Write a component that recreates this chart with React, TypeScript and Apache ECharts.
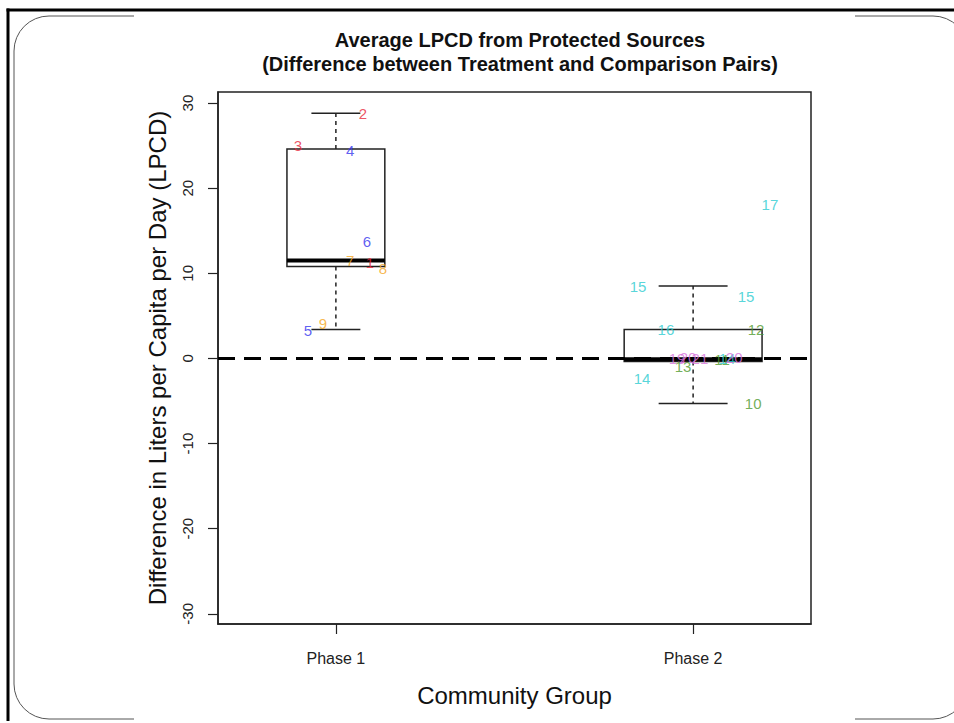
import React, { useEffect, useRef } from "react";
import * as echarts from "echarts";

const categories = ["Phase 1", "Phase 2"];
const categoryPositions = [1, 2];
// [x, lowerWhisker, q1, median, q3, upperWhisker]
const boxStats = [
  [1, 3.4, 10.8, 11.5, 24.6, 28.8],
  [2, -5.3, -0.35, -0.1, 3.4, 8.5],
];
const boxWidths = [0.274, 0.386];
const yTicks = [-30, -20, -10, 0, 10, 20, 30];
const zeroLine = [
  [0.67, 0],
  [2.33, 0],
];

const RED = "#e8283a";
const BLUE = "#3535ee";
const ORANGE = "#f5a623";
const CYAN = "#2ccbd0";
const GREEN = "#4f9a2e";
const VIOLET = "#d873dc";

// [label, x, y, color]
const pointLabels: [string, number, number, string][] = [
  ["2", 1.076, 28.8, RED],
  ["3", 0.894, 25.0, RED],
  ["4", 1.04, 24.4, BLUE],
  ["6", 1.087, 13.7, BLUE],
  ["7", 1.04, 11.5, ORANGE],
  ["1", 1.095, 11.3, RED],
  ["8", 1.132, 10.6, ORANGE],
  ["9", 0.964, 4.1, ORANGE],
  ["5", 0.922, 3.3, BLUE],
  ["15", 1.846, 8.5, CYAN],
  ["15", 2.148, 7.3, CYAN],
  ["17", 2.215, 18.1, CYAN],
  ["16", 1.924, 3.4, CYAN],
  ["12", 2.176, 3.4, GREEN],
  ["14", 1.857, -2.4, CYAN],
  ["10", 2.168, -5.3, GREEN],
  ["19", 1.955, 0.0, VIOLET],
  ["20", 1.986, 0.1, VIOLET],
  ["21", 2.019, 0.0, VIOLET],
  ["13", 1.972, -0.9, GREEN],
  ["11", 2.081, -0.1, GREEN],
  ["14", 2.095, 0.0, CYAN],
  ["20", 2.115, 0.15, VIOLET],
];

const FONT = "'Liberation Sans', Arial, Helvetica, sans-serif";

export default function App() {
  const ref = useRef<HTMLDivElement>(null);
  useEffect(() => {
    if (!ref.current) return;
    const chart = echarts.init(ref.current, null, { renderer: "svg" });
    const option: any = {
      animation: false,
      backgroundColor: "#fff",
      textStyle: { fontFamily: FONT },
      title: {
        text: "Average LPCD from Protected Sources\n(Difference between Treatment and Comparison Pairs)",
        left: 515,
        top: 23,
        textAlign: "center",
        textStyle: {
          fontFamily: FONT,
          fontSize: 20,
          fontWeight: "bold",
          color: "#111",
          lineHeight: 24,
        },
      },
      graphic: [
        {
          type: "rect",
          z: -10,
          shape: { x: 14, y: 16, width: 954, height: 703, r: 35 },
          style: { fill: "none", stroke: "#555", lineWidth: 1 },
        },
        {
          type: "rect",
          z: -9,
          shape: { x: 134, y: 12, width: 721, height: 711 },
          style: { fill: "#fff" },
        },
        {
          type: "line",
          z: -8,
          shape: { x1: 6.5, y1: 10, x2: 954, y2: 10 },
          style: { stroke: "#000", lineWidth: 3 },
        },
        {
          type: "line",
          z: -8,
          shape: { x1: 8, y1: 8.5, x2: 8, y2: 721 },
          style: { stroke: "#000", lineWidth: 3 },
        },
      ],
      grid: {
        left: 218,
        top: 92,
        width: 593,
        height: 532,
        show: true,
        borderColor: "#222",
        borderWidth: 1.5,
        backgroundColor: "transparent",
      },
      xAxis: {
        type: "value",
        min: 0.67,
        max: 2.33,
        name: "Community Group",
        nameLocation: "middle",
        nameGap: 59,
        nameTextStyle: { fontFamily: FONT, fontSize: 24, color: "#111" },
        axisLine: { show: true, onZero: false, lineStyle: { color: "#222", width: 1.5 } },
        axisTick: {
          show: true,
          length: 10,
          customValues: categoryPositions,
          lineStyle: { color: "#222", width: 1.2 },
        },
        axisLabel: {
          show: true,
          margin: 26,
          customValues: categoryPositions,
          formatter: (v: number) => categories[Math.round(v) - 1] ?? "",
          fontFamily: FONT,
          fontSize: 16,
          color: "#222",
        },
        splitLine: { show: false },
      },
      yAxis: {
        type: "value",
        min: -31.2,
        max: 31.3,
        name: "Difference in Liters per Capita per Day (LPCD)",
        nameLocation: "middle",
        nameGap: 49,
        nameTextStyle: { fontFamily: FONT, fontSize: 24, color: "#111" },
        axisLine: { show: true, onZero: false, lineStyle: { color: "#222", width: 1.5 } },
        axisTick: {
          show: true,
          length: 10,
          customValues: yTicks,
          lineStyle: { color: "#222", width: 1.2 },
        },
        axisLabel: {
          show: true,
          rotate: 90,
          margin: 23,
          customValues: yTicks,
          fontFamily: FONT,
          fontSize: 15,
          color: "#222",
        },
        splitLine: { show: false },
      },
      series: [
        {
          type: "custom",
          z: 2,
          data: boxStats.map((b, i) => [...b, boxWidths[i]]),
          renderItem: (params: any, api: any) => {
            const x = api.value(0);
            const lo = api.value(1);
            const q1 = api.value(2);
            const med = api.value(3);
            const q3 = api.value(4);
            const hi = api.value(5);
            const w = api.value(6);
            const tl = api.coord([x - w / 2, q3]);
            const br = api.coord([x + w / 2, q1]);
            const mL = api.coord([x - w / 2, med]);
            const mR = api.coord([x + w / 2, med]);
            const cTop = api.coord([x, q3]);
            const cHi = api.coord([x, hi]);
            const cBot = api.coord([x, q1]);
            const cLo = api.coord([x, lo]);
            const capL = api.coord([x - w / 4, hi]);
            const capR = api.coord([x + w / 4, hi]);
            const capL2 = api.coord([x - w / 4, lo]);
            const capR2 = api.coord([x + w / 4, lo]);
            const stroke = "#222";
            return {
              type: "group",
              children: [
                {
                  type: "line",
                  shape: { x1: cTop[0], y1: cTop[1], x2: cHi[0], y2: cHi[1] },
                  style: { stroke, lineWidth: 1.5, lineDash: [4, 4] },
                },
                {
                  type: "line",
                  shape: { x1: cBot[0], y1: cBot[1], x2: cLo[0], y2: cLo[1] },
                  style: { stroke, lineWidth: 1.5, lineDash: [4, 4] },
                },
                {
                  type: "line",
                  shape: { x1: capL[0], y1: capL[1], x2: capR[0], y2: capR[1] },
                  style: { stroke, lineWidth: 1.5 },
                },
                {
                  type: "line",
                  shape: { x1: capL2[0], y1: capL2[1], x2: capR2[0], y2: capR2[1] },
                  style: { stroke, lineWidth: 1.5 },
                },
                {
                  type: "rect",
                  shape: {
                    x: tl[0],
                    y: tl[1],
                    width: br[0] - tl[0],
                    height: br[1] - tl[1],
                  },
                  style: { fill: "none", stroke, lineWidth: 1.5 },
                },
                {
                  type: "line",
                  shape: { x1: mL[0], y1: mL[1], x2: mR[0], y2: mR[1] },
                  style: { stroke: "#000", lineWidth: 4 },
                },
              ],
            };
          },
        },
        {
          type: "line",
          z: 3,
          data: zeroLine,
          symbol: "none",
          lineStyle: { color: "#000", width: 3, type: [17, 9] },
        },
        {
          type: "scatter",
          z: 4,
          symbolSize: 0,
          data: pointLabels.map(([name, x, y, color]) => ({
            name,
            value: [x, y],
            label: { color },
          })),
          label: {
            show: true,
            position: "inside",
            formatter: (p: any) => p.name,
            fontFamily: FONT,
            fontSize: 15,
          },
        },
      ],
    };
    chart.setOption(option);
    return () => chart.dispose();
  }, []);
  return (
    <div
      ref={ref}
      style={{ position: "absolute", left: 0, top: 0, width: 954, height: 723 }}
    />
  );
}
